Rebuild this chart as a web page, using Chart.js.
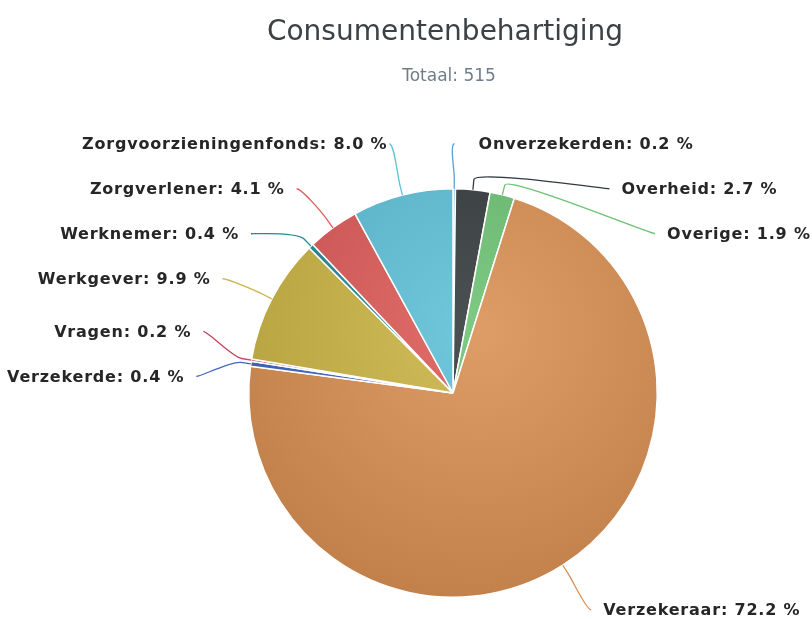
<!DOCTYPE html>
<html>
<head>
<meta charset="utf-8">
<script src="https://cdn.jsdelivr.net/npm/chart.js@4.4.1/dist/chart.umd.min.js"></script>
<style>
body{margin:0;background:#fff}
</style>
</head>
<body>
<canvas id="grafiek" width="812" height="619"></canvas>
<script>
// ---------------- DATA ----------------

const titel = "Consumentenbehartiging"
const categorieen = ["Onverzekerden","Overheid","Overige","Verzekeraar","Verzekerde","Vragen","Werkgever","Werknemer","Zorgverlener","Zorgvoorzieningenfonds"]
const aantallen = [1,14,10,372,2,1,51,2,21,41]
const kleuren = ["#5b9fd3","#34393d","#6cc273","#da8f52","#3e66c0","#c9435b","#cbb443","#1f8a98","#dd5a57","#5ec1d8"]

const totaal = aantallen.reduce((a,b)=>a+b,0)
const percentages = aantallen.map(v => (v/totaal*100).toFixed(1))

// ---------------- KLEUREN ----------------

function tint(hex, f){
let n = parseInt(hex.slice(1),16)
let rgb = [n>>16 & 255, n>>8 & 255, n & 255]
rgb = rgb.map(c => f>0 ? Math.round(c+(255-c)*f) : Math.round(c*(1+f)))
return "rgb("+rgb.join(",")+")"
}

// ---------------- LABELS ----------------

const labelPlugin = {
id:"pieLabels",
afterDatasetsDraw(chart){
const ctx = chart.ctx
const arcs = chart.getDatasetMeta(0).data
const cx = arcs[0].x, cy = arcs[0].y, r = arcs[0].outerRadius
const R = r + 53
const slot = 45
const top = cy - r - 45

let links = [], rechts = []
arcs.forEach((a,i) => {
const hoek = (a.startAngle + a.endAngle)/2
const item = {i, hoek, natY: cy + R*Math.sin(hoek)}
if (Math.cos(hoek) >= 0) rechts.push(item); else links.push(item)
})

function verdeel(lijst){
lijst.sort((a,b)=>a.natY-b.natY)
lijst.forEach(it => it.y = it.natY)
for (let k=0;k<60;k++){
for (let j=1;j<lijst.length;j++){
const gat = lijst[j].y - lijst[j-1].y
if (gat < slot){ const d=(slot-gat)/2; lijst[j-1].y -= d; lijst[j].y += d }
}
if (lijst.length) lijst[0].y = Math.max(lijst[0].y, top)
for (let j=1;j<lijst.length;j++) lijst[j].y = Math.max(lijst[j].y, lijst[j-1].y+slot)
}
}
verdeel(links)
verdeel(rechts)

ctx.save()
ctx.font = 'bold 16px "DejaVu Sans"'
ctx.letterSpacing = "0.8px"
ctx.textBaseline = "middle"
;[[links,-1],[rechts,1]].forEach(([lijst,s]) => {
lijst.forEach(it => {
// bovenste label: x volgt de natuurlijke hoek
const bovenaan = Math.abs(it.y - top) < 1
const yx = bovenaan ? it.natY : it.y
const x = cx + s*Math.sqrt(Math.max(0, R*R - (yx-cy)*(yx-cy)))
const ex = cx + r*Math.cos(it.hoek), ey = cy + r*Math.sin(it.hoek)
const bx = cx + (r+10)*Math.cos(it.hoek), by = cy + (r+10)*Math.sin(it.hoek)
ctx.strokeStyle = kleuren[it.i]
ctx.lineWidth = 1.3
ctx.beginPath()
ctx.moveTo(x, it.y)
ctx.bezierCurveTo(x - s*5, it.y, 2*bx-ex, 2*by-ey, bx, by)
ctx.lineTo(ex, ey)
ctx.stroke()
ctx.fillStyle = "#262626"
ctx.textAlign = s > 0 ? "left" : "right"
const tx = s > 0 ? x + (bovenaan ? 24 : 12) : x - (bovenaan ? 2 : 12)
ctx.fillText(categorieen[it.i] + ": " + percentages[it.i] + " %", tx, it.y + 1)
})
})
ctx.restore()
},
afterDraw(chart){
const ctx = chart.ctx
ctx.save()
ctx.textAlign = "center"
ctx.textBaseline = "middle"
ctx.fillStyle = "#3b4145"
ctx.font = '28px "DejaVu Sans"'
ctx.fillText(titel, 445, 33)
ctx.fillStyle = "#6f7e88"
ctx.font = '17px "DejaVu Sans"'
ctx.fillText("Totaal: " + totaal, 449, 77)
ctx.restore()
}
}

// ---------------- GRAFIEK ----------------

new Chart(document.getElementById("grafiek"),{
type:"pie",
data:{
labels:categorieen,
datasets:[{
data:aantallen,
backgroundColor: c => {
const area = c.chart.chartArea
const kleur = kleuren[c.dataIndex]
if (!area) return kleur
const mx = (area.left+area.right)/2, my = (area.top+area.bottom)/2
const r = Math.min(area.width, area.height)/2
const g = c.chart.ctx.createRadialGradient(mx+25, my-r*0.3, 0, mx+25, my-r*0.3, r*1.5)
g.addColorStop(0, tint(kleur, 0.12))
g.addColorStop(1, tint(kleur, -0.13))
return g
},
borderColor:"#ffffff",
borderWidth:1.5
}]
},
options:{
responsive:false,
animation:false,
layout:{padding:{top:188,bottom:21,left:94,right:0}},
plugins:{legend:{display:false},tooltip:{enabled:false}}
},
plugins:[labelPlugin]
})
</script>
</body>
</html>
